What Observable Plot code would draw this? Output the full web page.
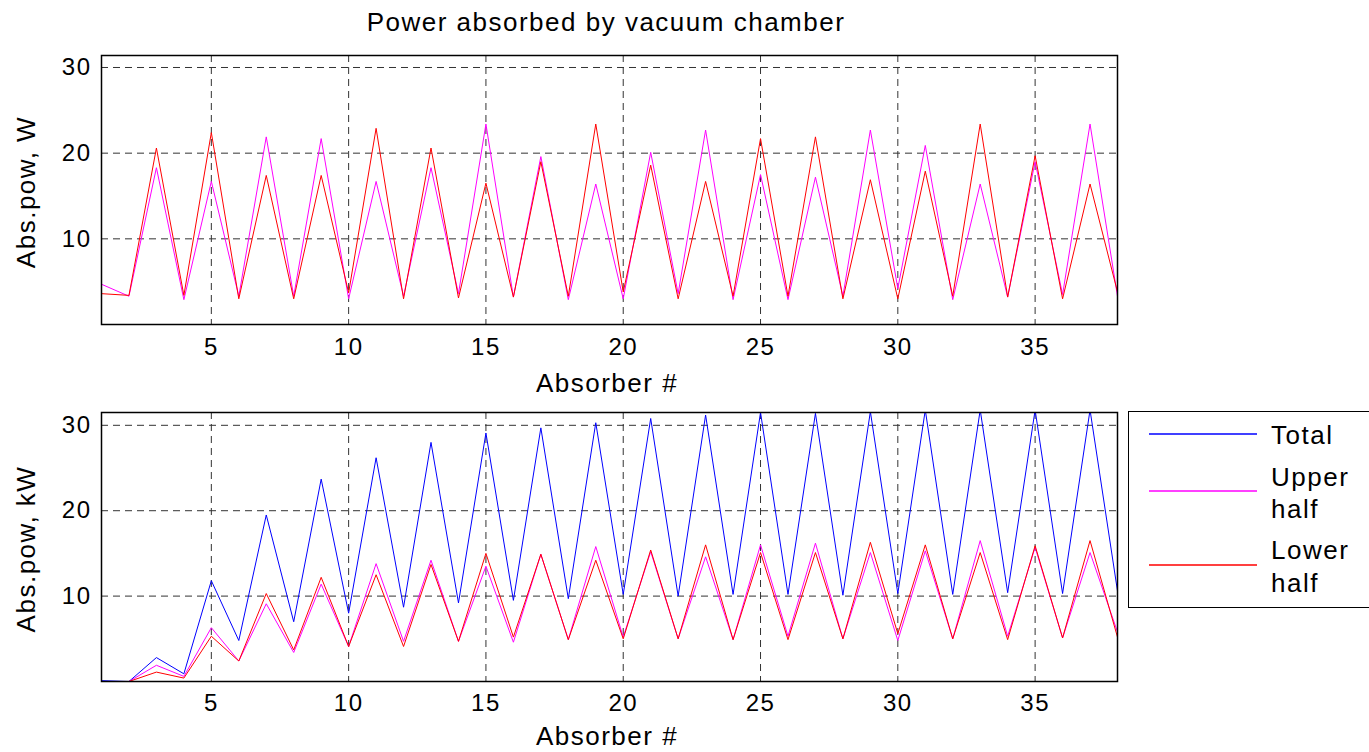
<!DOCTYPE html>
<html><head><meta charset="utf-8">
<script src="https://cdn.jsdelivr.net/npm/d3@7"></script>
<script src="https://cdn.jsdelivr.net/npm/@observablehq/plot@0.6"></script>
<style>
html,body{margin:0;padding:0;background:#fff;}
#wrap{position:relative;width:1369px;height:752px;overflow:hidden;font-family:"Liberation Sans",Arial,sans-serif;color:#000;}
#wrap svg{position:absolute;left:0;}
.lbl{position:absolute;font-size:26px;letter-spacing:1.5px;white-space:nowrap;line-height:1;}
</style></head>
<body><div id="wrap"></div>
<script>
const absorber = [1,2,3,4,5,6,7,8,9,10,11,12,13,14,15,16,17,18,19,20,21,22,23,24,25,26,27,28,29,30,31,32,33,34,35,36,37,38];
const xTicks = [5,10,15,20,25,30,35];
const yTicks = [10,20,30];
// Top panel: power in W
const topUpper = [4.7,3.3,18.3,2.9,16.7,3.3,21.9,3.3,21.7,3.0,16.7,3.3,18.3,3.6,23.4,3.2,19.6,2.9,16.4,3.0,20.1,3.6,22.7,2.9,17.5,2.9,17.2,3.3,22.7,4.2,20.9,2.9,16.4,3.2,19.0,3.5,23.4,3.3];
const topLower = [3.6,3.4,20.6,3.4,22.4,3.0,17.4,3.0,17.4,3.7,22.9,3.0,20.6,3.1,16.5,3.2,19.0,3.3,23.4,3.8,18.6,3.0,16.7,3.3,21.7,3.3,21.9,3.0,16.9,3.0,17.9,3.3,23.4,3.2,19.7,3.0,16.4,3.8];
// Bottom panel: power in kW
const botTotal = [0.1,0,2.8,0.9,11.8,4.8,19.5,7.0,23.7,8.0,26.2,8.7,28.0,9.2,29.1,9.5,29.7,9.7,30.3,10.2,30.8,10.0,31.2,10.2,31.5,10.2,31.4,10.1,31.6,10.3,31.8,10.2,31.8,10.4,31.8,10.3,31.8,10.6];
const botUpper = [0,0,1.9,0.6,6.3,2.4,9.1,3.4,11.4,4.1,13.8,4.7,14.2,4.7,13.5,4.6,14.9,4.9,15.8,5.2,15.2,5.0,14.6,4.9,16.0,5.3,16.2,5.0,15.1,4.8,15.3,5.0,16.5,5.3,15.7,5.1,15.1,5.8];
const botLower = [0,0,1.1,0.4,5.3,2.4,10.3,3.7,12.2,4.1,12.5,4.1,13.7,4.7,15.0,5.2,14.9,4.9,14.2,5.0,15.4,5.0,16.0,4.9,15.1,4.9,15.1,5.0,16.3,5.6,16.0,5.0,15.1,4.9,15.9,5.1,16.5,5.2];
const seriesNames = ["Total","Upper half","Lower half"];
const colors = {"Total":"#0000ff","Upper half":"#ff00ff","Lower half":"#ff0000"};

const wrap = document.getElementById("wrap");

function panel(series, yMax, height, mTop, mBottom, xPad) {
  const rows = [];
  for (const [name, vals] of series) vals.forEach((v,i)=>rows.push({x:absorber[i], y:v, s:name}));
  const marks = [
    Plot.gridX(xTicks, {stroke:"#333", strokeOpacity:1, strokeDasharray:"7,5", strokeWidth:1}),
    Plot.gridY(yTicks, {stroke:"#333", strokeOpacity:1, strokeDasharray:"7,5", strokeWidth:1}),
    Plot.axisX(xTicks, {tickSize:0, tickPadding:xPad, fontSize:24, label:null}),
    Plot.axisY(yTicks, {tickSize:0, tickPadding:10, fontSize:24, label:null}),
  ];
  for (const [name] of series) {
    marks.push(Plot.line(rows.filter(d=>d.s===name), {x:"x", y:"y", stroke:colors[name], strokeWidth:1, clip:true}));
  }
  marks.push(Plot.frame({stroke:"#000", strokeWidth:1.5}));
  return Plot.plot({
    width:1369, height, marginLeft:101, marginRight:252, marginTop:mTop, marginBottom:mBottom,
    style:{fontFamily:"Liberation Sans, Arial, sans-serif", fontSize:"24px", letterSpacing:"1.5px", color:"#000", background:"transparent", overflow:"visible"},
    x:{domain:[1,38]},
    y:{domain:[0,yMax]},
    marks
  });
}

const top1 = panel([["Upper half",topUpper],["Lower half",topLower]], 31.4, 400, 55, 76, 13);
top1.style.top = "0px";
wrap.appendChild(top1);
const bot = panel([["Total",botTotal],["Upper half",botUpper],["Lower half",botLower]], 31.5, 352, 12, 71, 12);
bot.style.top = "400px";
wrap.appendChild(bot);

function label(text, x, y, rot) {
  const d = document.createElement("div");
  d.className = "lbl"; d.textContent = text;
  d.style.left = x + "px"; d.style.top = y + "px";
  d.style.transform = "translate(-50%,-50%)" + (rot ? " rotate(-90deg)" : "");
  wrap.appendChild(d);
}
label("Power absorbed by vacuum chamber", 606, 22);
label("Absorber #", 607, 383);
label("Absorber #", 607, 736);
label("Abs.pow, W", 26, 192, true);
label("Abs.pow, kW", 26, 549, true);

// Legend drawn as SVG
const ns = "http://www.w3.org/2000/svg";
const lg = document.createElementNS(ns, "svg");
lg.setAttribute("width", 1369); lg.setAttribute("height", 752);
lg.style.top = "0px"; lg.style.pointerEvents = "none";
const box = document.createElementNS(ns, "rect");
box.setAttribute("x", 1128.5); box.setAttribute("y", 411.5); box.setAttribute("width", 260); box.setAttribute("height", 196);
box.setAttribute("fill", "#fff"); box.setAttribute("stroke", "#000"); box.setAttribute("stroke-width", 1);
lg.appendChild(box);
const items = [
  {name:seriesNames[0], lineY:434, lines:[["Total",435]]},
  {name:seriesNames[1], lineY:491, lines:[["Upper",477],["half",509]]},
  {name:seriesNames[2], lineY:565, lines:[["Lower",550],["half",583]]},
];
for (const it of items) {
  const l = document.createElementNS(ns, "line");
  l.setAttribute("x1", 1149); l.setAttribute("x2", 1257);
  l.setAttribute("y1", it.lineY); l.setAttribute("y2", it.lineY);
  l.setAttribute("stroke", colors[it.name]); l.setAttribute("stroke-width", 1.3);
  lg.appendChild(l);
  for (const [txt, y] of it.lines) {
    const t = document.createElementNS(ns, "text");
    t.setAttribute("x", 1271); t.setAttribute("y", y);
    t.setAttribute("dy", "0.36em");
    t.setAttribute("font-size", 26); t.setAttribute("letter-spacing", "1.5px");
    t.setAttribute("font-family", "Liberation Sans, Arial, sans-serif");
    t.textContent = txt;
    lg.appendChild(t);
  }
}
wrap.appendChild(lg);
</script></body></html>
